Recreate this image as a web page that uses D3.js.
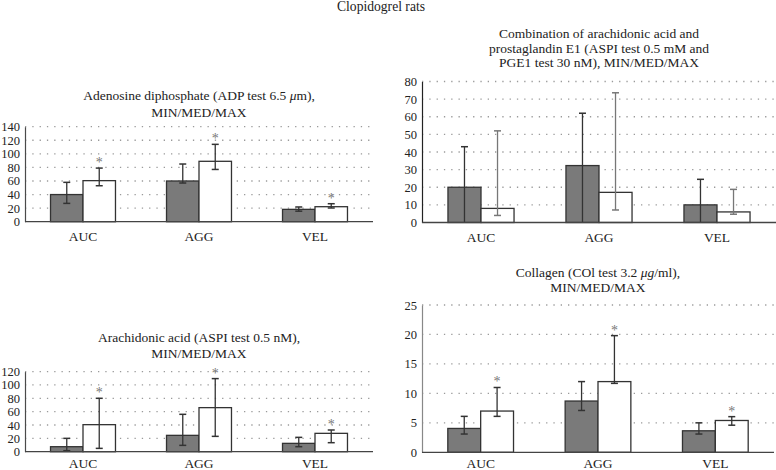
<!DOCTYPE html>
<html>
<head>
<meta charset="utf-8">
<script src="https://cdn.jsdelivr.net/npm/d3@7"></script>
<style>
  html, body { margin: 0; padding: 0; background: #fff; }
  svg { display: block; font-family: "Liberation Serif", "Times New Roman", serif; }
</style>
</head>
<body>
<svg id="chart" width="776" height="470"></svg>
<script>
// ---------- data (each entry: [min, median, max]) ----------
const categories = ["AUC", "AGG", "VEL"];
const seriesNames = ["control", "clopidogrel"];

// ADP test 6.5 µm
const adpControl = [[27, 40, 58], [57, 60, 85], [15.5, 18.2, 21.7]];
const adpClopidogrel = [[53, 60.5, 79], [77, 89, 114], [20.2, 22.1, 26.5]];
const adpStars = [true, true, true];
const adpTicks = [0, 20, 40, 60, 80, 100, 120, 140];

// ASPI 0.5 mM + PGE1 30 nM
const comboControl = [[0, 20, 43], [0, 32.3, 62], [0, 10, 24.5]];
const comboClopidogrel = [[4, 8, 52], [7.1, 17.1, 73.6], [4.7, 6, 18.8]];
const comboStars = [false, false, false];
const comboTicks = [0, 10, 20, 30, 40, 50, 60, 70, 80];

// ASPI 0.5 nM
const aspiControl = [[1.5, 7.5, 20], [9.5, 24.5, 56], [7.5, 12.5, 21.5]];
const aspiClopidogrel = [[5, 40.5, 80], [23, 66, 109.5], [13.5, 27.5, 32.5]];
const aspiStars = [true, true, true];
const aspiTicks = [0, 20, 40, 60, 80, 100, 120];

// COl 3.2 µg/ml
const colControl = [[3.1, 4.05, 6.1], [7.1, 8.7, 12], [3.1, 3.65, 5]];
const colClopidogrel = [[6.1, 7, 11], [11.7, 12, 19.8], [4.6, 5.4, 6.05]];
const colStars = [true, true, true];
const colTicks = [0, 5, 10, 15, 20, 25];

const mainTitle = "Clopidogrel rats";

// ---------- layout ----------
const panels = [
  { control: adpControl, clop: adpClopidogrel, stars: adpStars, ticks: adpTicks,
    x: [25, 373], y: [221.7, 126.7], labOff: 15,
    title: [[["Adenosine diphosphate (ADP test 6.5 ", false], ["μ", true], ["m),", false]], [["MIN/MED/MAX", false]]],
    titleY: [95, 112], axisColor: "#4a4a4a", errB: "#333" },
  { control: comboControl, clop: comboClopidogrel, stars: comboStars, ticks: comboTicks,
    x: [422, 776], y: [222.5, 81.5], labOff: 15,
    title: [[["Combination of arachidonic acid and", false]], [["prostaglandin E1 (ASPI test 0.5 mM and", false]], [["PGE1 test 30 nM), MIN/MED/MAX", false]]],
    titleY: [33.5, 48, 62.5], axisColor: "#222", errB: "#777" },
  { control: aspiControl, clop: aspiClopidogrel, stars: aspiStars, ticks: aspiTicks,
    x: [25, 373], y: [451.7, 371.6], labOff: 11.5,
    title: [[["Arachidonic acid (ASPI test 0.5 nM),", false]], [["MIN/MED/MAX", false]]],
    titleY: [337, 353.5], axisColor: "#4a4a4a", errB: "#333" },
  { control: colControl, clop: colClopidogrel, stars: colStars, ticks: colTicks,
    x: [422, 774], y: [452.3, 305], labOff: 11,
    title: [[["Collagen (COl test 3.2 ", false], ["μg", true], ["/ml),", false]], [["MIN/MED/MAX", false]]],
    titleY: [272.5, 287], axisColor: "#888", errB: "#333" }
];

const svg = d3.select("#chart");

svg.append("text")
  .attr("x", 381).attr("y", 6).attr("dy", "0.35em")
  .attr("text-anchor", "middle")
  .attr("font-size", 13.6).attr("fill", "#222")
  .text(mainTitle);

panels.forEach(p => {
  const g = svg.append("g");
  const yMax = p.ticks[p.ticks.length - 1];
  const y = d3.scaleLinear().domain([0, yMax]).range(p.y);
  const x0 = d3.scaleBand().domain(categories).range(p.x).paddingInner(0.44).paddingOuter(0.22);
  const x1 = d3.scaleBand().domain(seriesNames).range([0, x0.bandwidth()]);

  // title
  const cx = (p.x[0] + p.x[1]) / 2;
  p.title.forEach((line, i) => {
    const t = g.append("text")
      .attr("x", cx).attr("y", p.titleY[i]).attr("dy", "0.35em")
      .attr("text-anchor", "middle").attr("font-size", 13.5).attr("fill", "#222");
    line.forEach(([s, it]) => {
      t.append("tspan").attr("font-style", it ? "italic" : null).text(s);
    });
  });

  // gridlines
  g.selectAll(".grid").data(p.ticks.filter(d => d > 0)).join("line")
    .attr("x1", p.x[0]).attr("x2", p.x[1])
    .attr("y1", d => y(d)).attr("y2", d => y(d))
    .attr("stroke", "#9a9a9a").attr("stroke-width", 1.3)
    .attr("stroke-dasharray", "1.3,6");

  // y axis
  const ya = g.append("g").attr("transform", `translate(${p.x[0]},0)`)
    .call(d3.axisLeft(y).tickValues(p.ticks).tickSize(0).tickPadding(5).tickFormat(d3.format("d")));
  ya.select(".domain").attr("stroke", p.axisColor).attr("stroke-width", 1.2);
  ya.selectAll("text").attr("font-family", "Liberation Serif").attr("font-size", 12.5).attr("fill", "#222");

  // bars
  const groups = g.selectAll(".cat").data(categories).join("g")
    .attr("transform", d => `translate(${x0(d)},0)`);

  const rows = categories.map((c, i) => [
    { s: "control", v: p.control[i], star: false, fill: "#7a7a7a", err: "#333" },
    { s: "clopidogrel", v: p.clop[i], star: p.stars[i], fill: "#ffffff", err: p.errB }
  ]);

  groups.each(function(c, i) {
    const gg = d3.select(this);
    rows[i].forEach(r => {
      const bx = x1(r.s), bw = x1.bandwidth(), mx = bx + bw / 2;
      gg.append("rect")
        .attr("x", bx).attr("width", bw)
        .attr("y", y(r.v[1])).attr("height", y(0) - y(r.v[1]))
        .attr("fill", r.fill).attr("stroke", "#333").attr("stroke-width", 1.3);
      gg.append("line").attr("x1", mx).attr("x2", mx)
        .attr("y1", y(r.v[0])).attr("y2", y(r.v[2]))
        .attr("stroke", r.err).attr("stroke-width", 1.3);
      [r.v[0], r.v[2]].forEach(v => {
        if (v > 0) gg.append("line").attr("x1", mx - 3.5).attr("x2", mx + 3.5)
          .attr("y1", y(v)).attr("y2", y(v))
          .attr("stroke", r.err).attr("stroke-width", 1.5);
      });
      if (r.star) {
        gg.append("text").attr("x", mx).attr("y", y(r.v[2]) - 1)
          .attr("text-anchor", "middle").attr("font-size", 14).attr("fill", "#777")
          .text("*");
      }
    });
  });

  // x baseline
  g.append("line").attr("x1", p.x[0]).attr("x2", p.x[1])
    .attr("y1", y(0)).attr("y2", y(0))
    .attr("stroke", "#444").attr("stroke-width", 1.3);

  // category labels
  g.selectAll(".cl").data(categories).join("text")
    .attr("x", d => x0(d) + x0.bandwidth() / 2)
    .attr("y", y(0) + p.labOff).attr("dy", "0.35em")
    .attr("text-anchor", "middle").attr("font-size", 13.5).attr("fill", "#222")
    .text(d => d);
});
</script>
</body>
</html>
